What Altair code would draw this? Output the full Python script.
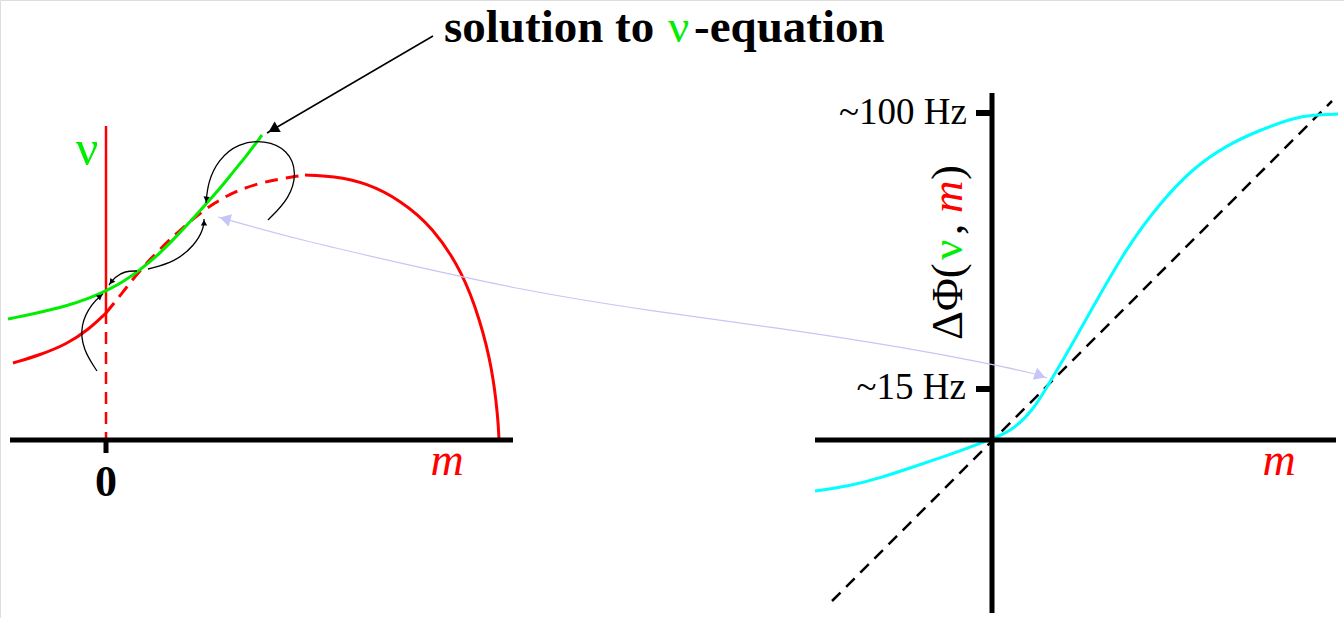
import math
import altair as alt
import pandas as pd

W, H = 1344, 618
SERIF = "Liberation Serif"
RED, GREEN, CYAN, LAVENDER = "#ff0000", "#00ee00", "#00ffff", "#c6c6f6"

# ---------------- left panel (m, nu plane) ----------------
red_left_x = [13, 40, 67, 88, 106]
red_left_y = [363, 355, 344, 330, 313]
red_mid_x = [106, 123, 140, 160, 180, 213, 253, 305]
red_mid_y = [313, 292, 270, 249, 230, 202, 183, 175]
red_right_x = [305, 333, 367, 400, 433, 463, 480, 492, 498, 499]
red_right_y = [175, 176, 183, 200, 227, 273, 320, 367, 417, 440]

green_x = [8, 33, 67, 90, 106, 123, 140, 157, 173, 190, 207, 222, 233, 248, 262]
green_y = [319, 314, 306, 298, 291, 282, 270, 256, 240, 222, 203, 186, 172, 154, 135]

nu_axis_solid_y = [126, 312]
nu_axis_dash_y = [312, 440]
nu_axis_x = 106

# iteration arrows between the two curves
iter1_x = [97, 83, 80, 92, 103]
iter1_y = [371, 350, 325, 303, 294]
iter2_x = [137, 125, 115, 109]
iter2_y = [271, 271, 277, 285]
iter3_x = [148, 175, 195, 204, 204]
iter3_y = [269, 262, 245, 228, 219]
iter4_x = [268, 290, 297, 288, 265, 238, 218, 208, 206]
iter4_y = [220, 198, 172, 150, 140, 143, 160, 182, 203]

# pointer from the caption to the fixed point
caption_arrow_x = [433, 267]
caption_arrow_y = [36, 133]

# link between the fixed point and the phase-difference curve
link_x = [218, 300, 400, 520, 650, 780, 913, 980, 1033, 1047]
link_y = [217, 240, 263, 290, 311, 328, 349, 362, 373, 378]

# ---------------- right panel (delta-phi vs m) ----------------
cyan_x = [815, 850, 880, 910, 940, 965, 992, 1013, 1033, 1047, 1060, 1070,
          1093, 1127, 1160, 1193, 1227, 1260, 1293, 1313, 1338]
cyan_y = [491, 486, 478, 468, 458, 449, 439, 430, 410, 387, 365, 348,
          307, 247, 203, 168, 145, 130, 118, 115, 114]
diag_x = [832, 1332]
diag_y = [601, 101]

# axis segments: x1, y1, x2, y2, stroke width
axis_x1 = [10, 106, 815, 992, 976, 976]
axis_y1 = [440, 440, 440, 93, 113, 389]
axis_x2 = [513, 106, 1336, 992, 992, 992]
axis_y2 = [440, 453, 440, 613, 113, 389]
axis_w = [5, 5, 5, 5, 6, 6]

tick_labels = ["~100 Hz", "~15 Hz"]
tick_label_x = [967, 966]
tick_label_y = [124, 399]


def xenc(field="x"):
    return alt.X(f"{field}:Q", scale=alt.Scale(domain=[0, W], nice=False, zero=False), axis=None)


def yenc(field="y"):
    return alt.Y(f"{field}:Q", scale=alt.Scale(domain=[0, H], nice=False, zero=False, reverse=True),
                 axis=None)


def curve(xs, ys, color, width, dash=None, interp="basis"):
    df = pd.DataFrame({"x": xs, "y": ys, "i": list(range(len(xs)))})
    kw = dict(color=color, strokeWidth=width, interpolate=interp, strokeCap="butt")
    if dash:
        kw["strokeDash"] = dash
    return alt.Chart(df).mark_line(**kw).encode(x=xenc(), y=yenc(), order=alt.Order("i:Q"))


def heads(specs, color):
    """specs: list of (tip_x, tip_y, from_x, from_y, size)."""
    rows = []
    for tx, ty, fx, fy, s in specs:
        dx, dy = tx - fx, ty - fy
        n = math.hypot(dx, dy)
        dx, dy = dx / n, dy / n
        back = 2 * math.tan(math.radians(30)) * math.sqrt(s) / 2
        ang = math.degrees(math.atan2(dx, -dy)) % 360
        rows.append({"x": tx - dx * back, "y": ty - dy * back, "a": ang, "s": s})
    return alt.Chart(pd.DataFrame(rows)).mark_point(
        shape="triangle-up", filled=True, opacity=1, color=color, strokeWidth=0
    ).encode(x=xenc(), y=yenc(), angle=alt.Angle("a:Q", scale=None), size=alt.Size("s:Q", scale=None))


def label(xs, ys, texts, size, color="black", align="center", weight="normal", style="normal",
          angle=0, baseline="alphabetic"):
    df = pd.DataFrame({"x": xs, "y": ys, "t": texts})
    kw = dict(font=SERIF, fontSize=size, color=color, align=align, fontWeight=weight,
              fontStyle=style, baseline=baseline)
    if angle:
        kw["angle"] = angle
    return alt.Chart(df).mark_text(**kw).encode(x=xenc(), y=yenc(), text="t:N")


axes_df = pd.DataFrame({"x1": axis_x1, "y1": axis_y1, "x2": axis_x2, "y2": axis_y2, "w": axis_w})
axes = alt.Chart(axes_df).mark_rule(color="black", strokeCap="butt").encode(
    x=xenc("x1"), y=yenc("y1"), x2=alt.X2("x2:Q"), y2=alt.Y2("y2:Q"),
    strokeWidth=alt.StrokeWidth("w:Q", scale=None))

layers = [
    # left panel
    curve([nu_axis_x] * 2, nu_axis_solid_y, RED, 2.5, interp="linear"),
    curve([nu_axis_x] * 2, nu_axis_dash_y, RED, 2.5, dash=[12, 8], interp="linear"),
    curve(red_left_x, red_left_y, RED, 3),
    curve(red_mid_x, red_mid_y, RED, 3, dash=[13, 8]),
    curve(red_right_x, red_right_y, RED, 3),
    curve(green_x, green_y, GREEN, 3),
    curve(iter1_x, iter1_y, "black", 1.3),
    curve(iter2_x, iter2_y, "black", 1.3),
    curve(iter3_x, iter3_y, "black", 1.3),
    curve(iter4_x, iter4_y, "black", 1.3),
    heads([
        (iter1_x[-1], iter1_y[-1], iter1_x[-2], iter1_y[-2], 40),
        (iter2_x[-1], iter2_y[-1], iter2_x[-2], iter2_y[-2], 40),
        (iter3_x[-1], iter3_y[-1], iter3_x[-2], iter3_y[-2], 40),
        (iter4_x[-1], iter4_y[-1], iter4_x[-2], iter4_y[-2], 40),
        (caption_arrow_x[-1], caption_arrow_y[-1], caption_arrow_x[0], caption_arrow_y[0], 150),
    ], "black"),
    curve(caption_arrow_x, caption_arrow_y, "black", 1.5, interp="linear"),
    # right panel
    curve(diag_x, diag_y, "black", 2.5, dash=[12, 8], interp="linear"),
    curve(cyan_x, cyan_y, CYAN, 3),
    axes,
    # link arrow
    curve(link_x, link_y, LAVENDER, 1.2),
    heads([
        (link_x[0], link_y[0], link_x[1], link_y[1], 160),
        (link_x[-1], link_y[-1], link_x[-2], link_y[-2], 160),
    ], LAVENDER),
    # texts
    label([444], [42], ["solution to"], 47, align="left", weight="bold"),
    label([668], [42], ["\u03bd"], 47, color=GREEN, align="left"),
    label([694], [42], ["-equation"], 47, align="left", weight="bold"),
    label([87], [165], ["\u03bd"], 50, color=GREEN),
    label([106], [496], ["0"], 44, weight="bold"),
    label([447, 1279], [475, 475], ["m", "m"], 46, color=RED, style="italic"),
    label(tick_label_x, tick_label_y, tick_labels, 37, align="right"),
    label([962], [340], ["\u0394\u03a6("], 45, align="left", angle=270),
    label([962], [260], ["\u03bd"], 45, color=GREEN, align="left", angle=270),
    label([962], [235], [","], 45, align="left", angle=270),
    label([962], [213], ["m"], 45, color=RED, style="italic", align="left", angle=270),
    label([962], [180], [")"], 45, align="left", angle=270),
]

chart = alt.layer(*layers).properties(
    width=W, height=H, padding=0, autosize=alt.AutoSizeParams(type="none")
).configure_view(stroke=None).configure(background="white")

chart.save("out.html", embed_options={"renderer": "svg", "actions": False})
